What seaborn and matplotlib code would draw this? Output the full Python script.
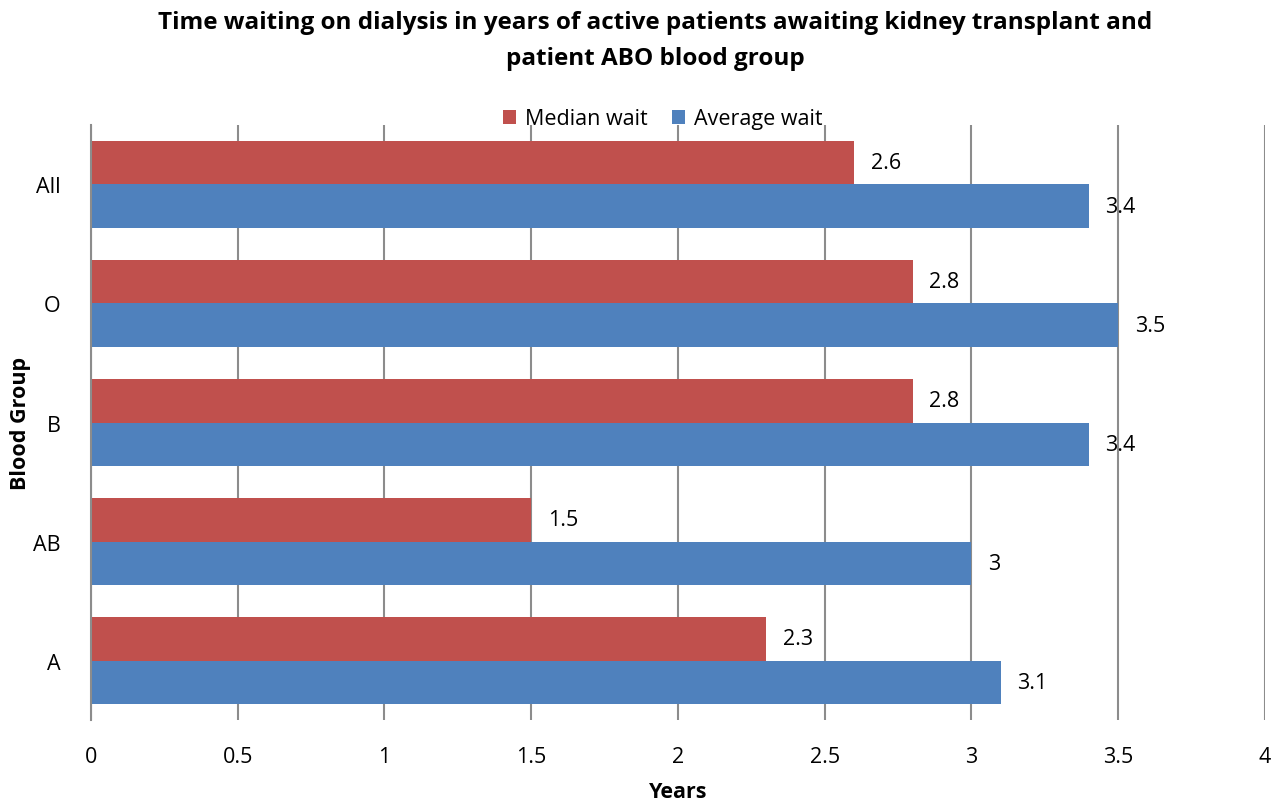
import pandas as pd
import matplotlib
matplotlib.use('Agg')
import matplotlib.pyplot as plt
import seaborn as sns

# Values
groups = ['All', 'O', 'B', 'AB', 'A']
median_wait = [2.6, 2.8, 2.8, 1.5, 2.3]
average_wait = [3.4, 3.5, 3.4, 3.0, 3.1]
series_names = ['Median wait', 'Average wait']
x_ticks = [0, 0.5, 1, 1.5, 2, 2.5, 3, 3.5, 4]
x_tick_labels = ['0', '0.5', '1', '1.5', '2', '2.5', '3', '3.5', '4']

df = pd.DataFrame({
    'group': groups * 2,
    'series': [series_names[0]] * len(groups) + [series_names[1]] * len(groups),
    'years': median_wait + average_wait,
})

sns.set_style('white')
plt.rcParams['font.family'] = ['Open Sans', 'DejaVu Sans']
plt.rcParams['text.color'] = 'black'
plt.rcParams['axes.labelcolor'] = 'black'
plt.rcParams['xtick.color'] = 'black'
plt.rcParams['ytick.color'] = 'black'

fs = 15.5

fig = plt.figure(figsize=(12.78, 8.04), dpi=100)
ax = fig.add_axes([0.0712, 0.1032, 0.9186, 0.7401])

palette = {'Median wait': '#C0504D', 'Average wait': '#4F81BD'}
sns.barplot(data=df, x='years', y='group', hue='series', order=groups,
            hue_order=series_names, palette=palette, orient='h',
            width=0.73, saturation=1, linewidth=0, edgecolor='none',
            ax=ax, legend=True)

for cont in ax.containers:
    ax.bar_label(cont, fmt='%g', padding=12, fontsize=fs)

ax.set_xlim(0, 4)
ax.set_xticks(x_ticks)
ax.set_xticklabels(x_tick_labels, fontsize=fs)
ax.tick_params(axis='x', length=0, pad=19)
ax.tick_params(axis='y', length=0, pad=22, labelsize=fs)
ax.grid(axis='x', color='#8c8c8c', linewidth=1.5)
ax.set_axisbelow(True)
for side in ['top', 'right', 'bottom']:
    ax.spines[side].set_visible(False)
ax.spines['left'].set_color('#8c8c8c')
ax.spines['left'].set_linewidth(1.5)

ax.set_xlabel('Years', fontsize=fs, fontweight='bold', labelpad=10)
ax.set_ylabel('Blood Group', fontsize=fs, fontweight='bold')
ax.yaxis.set_label_coords(-0.051, 0.5)

ax.legend(loc='lower center', bbox_to_anchor=(0.487, 0.978), ncol=2, frameon=False,
          fontsize=fs, handlelength=0.6, handleheight=0.6, handletextpad=0.45,
          columnspacing=1.1, borderaxespad=0)

fig.text(0.513, 0.949, 'Time waiting on dialysis in years of active patients awaiting kidney transplant and\npatient ABO blood group',
         ha='center', va='center', fontsize=17.5, fontweight='bold', linespacing=1.7)

fig.savefig('out.png', dpi=100)
